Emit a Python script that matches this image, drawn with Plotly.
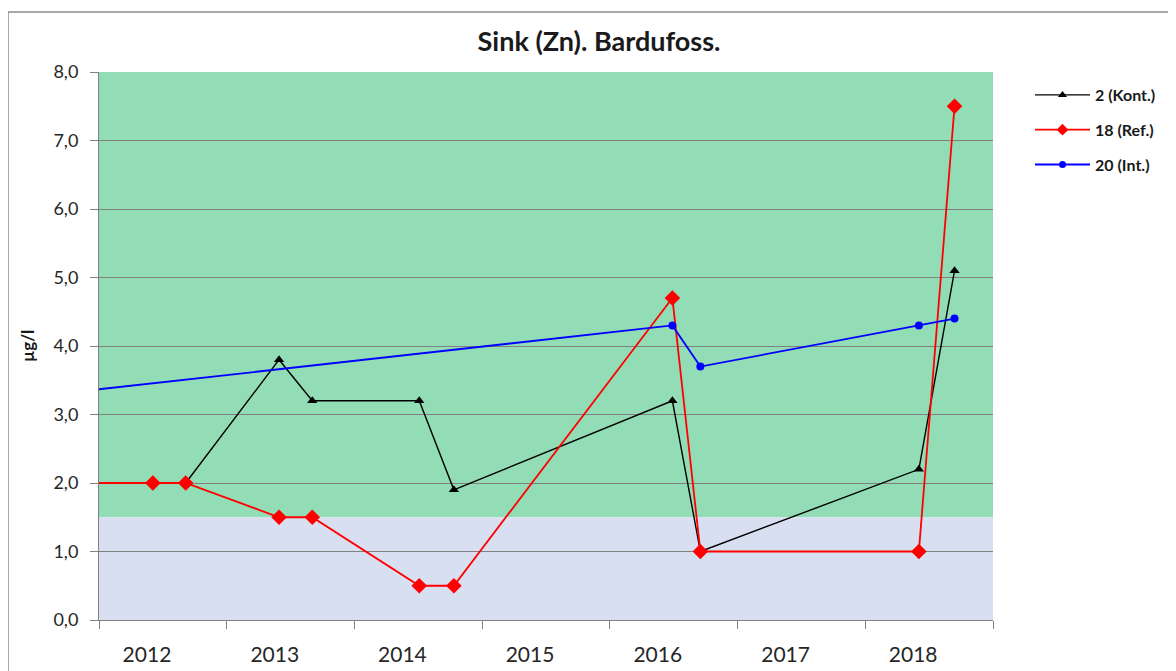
import plotly.graph_objects as go

# ---- data ----
kont_dates = ["2012-09-05", "2013-05-30", "2013-09-02", "2014-07-05", "2014-10-12",
              "2016-06-28", "2016-09-16", "2018-06-03", "2018-09-13"]
kont_vals = [2.0, 3.8, 3.2, 3.2, 1.9, 3.2, 1.0, 2.2, 5.1]

ref_dates = ["2011-09-15", "2012-06-03", "2012-09-05", "2013-05-30", "2013-09-02",
             "2014-07-05", "2014-10-12", "2016-06-28", "2016-09-16", "2018-06-03",
             "2018-09-13"]
ref_vals = [2.0, 2.0, 2.0, 1.5, 1.5, 0.5, 0.5, 4.7, 1.0, 1.0, 7.5]

int_dates = ["2010-09-15", "2016-06-28", "2016-09-16", "2018-06-03", "2018-09-13"]
int_vals = [3.1, 4.3, 3.7, 4.3, 4.4]

series_names = ["2 (Kont.)", "18 (Ref.)", "20 (Int.)"]
title_text = "Sink (Zn). Bardufoss."
y_title = "µg/l"
green_band = [1.5, 8.0]
blue_band = [0.0, 1.5]

FONT = "Lato"
GRID = "#808080"
TXT = "#262626"

# page is drawn with an 8px body margin
W, H = 1168, 663
OFF = 8
PL, PR, PT, PB = 99, 993, 72, 620  # plot area in page pixels

styles = [
    dict(color="black", width=1.4, symbol="triangle-up", size=9, lsize=8),
    dict(color="#ff0000", width=1.8, symbol="diamond", size=12, lsize=9),
    dict(color="#0000ff", width=1.8, symbol="circle", size=8, lsize=7),
]
series = [(kont_dates, kont_vals), (ref_dates, ref_vals), (int_dates, int_vals)]

fig = go.Figure()
for (xs, ys), name, st in zip(series, series_names, styles):
    fig.add_trace(go.Scatter(x=xs, y=ys, mode="lines+markers", name=name, showlegend=False,
                             line=dict(color=st["color"], width=st["width"]),
                             marker=dict(symbol=st["symbol"], size=st["size"], color=st["color"])))
for i, (name, st) in enumerate(zip(series_names, styles)):
    fig.add_trace(go.Scatter(x=[None], y=[None], mode="lines+markers", name=name,
                             legendgroup="g%d" % i, showlegend=True,
                             line=dict(color=st["color"], width=st["width"]),
                             marker=dict(symbol=st["symbol"], size=st["lsize"], color=st["color"])))

# background bands
fig.add_shape(type="rect", xref="paper", x0=0, x1=1, yref="y", y0=green_band[0], y1=green_band[1],
              fillcolor="#92dcb6", line=dict(width=0), layer="below")
fig.add_shape(type="rect", xref="paper", x0=0, x1=1, yref="y", y0=blue_band[0], y1=blue_band[1],
              fillcolor="#d8dff0", line=dict(width=0), layer="below")


def px(p):
    return (p - PL) / (PR - PL)


def py(p):
    return (PB - p) / (PB - PT)


# outer chart border
fig.add_shape(type="rect", xref="paper", yref="paper",
              x0=px(8.0), x1=px(1300), y0=py(800), y1=py(12),
              line=dict(color="#8c8c8c", width=1.5), fillcolor="rgba(0,0,0,0)", layer="below")

fig.update_layout(
    width=W, height=H,
    margin=dict(l=PL - OFF, r=W - (PR - OFF), t=PT - OFF, b=H - (PB - OFF), autoexpand=False),
    paper_bgcolor="white", plot_bgcolor="white",
    separators=",.",
    font=dict(family=FONT, color=TXT),
    title=dict(text="<b>" + title_text + "</b>", x=(599 - OFF) / W, xanchor="center",
               y=1 - (42 - OFF) / H, yanchor="middle",
               font=dict(size=27, family=FONT, color="#1a1a1a")),
    showlegend=True,
    legend=dict(x=px(1030), xanchor="left", y=py(78), yanchor="top",
                font=dict(size=16, family=FONT, color="#1a1a1a", weight="bold"),
                tracegroupgap=11, itemwidth=55, bgcolor="rgba(0,0,0,0)"),
    xaxis=dict(type="date", range=["2012-01-01", "2019-01-01"], dtick="M12", tick0="2012-01-01",
               tickformat="%Y", ticklabelmode="period", ticklabelshift=-16, ticklabelstandoff=8,
               showgrid=False, automargin=False,
               ticks="outside", ticklen=8, tickcolor=GRID, showline=True, linecolor=GRID, linewidth=1,
               tickfont=dict(size=21, family=FONT, color=TXT), zeroline=False),
    yaxis=dict(range=[0, 8], dtick=1, tickformat=".1f", showgrid=True, gridcolor=GRID, gridwidth=1,
               ticks="outside", ticklen=8, tickcolor=GRID, showline=True, linecolor=GRID, linewidth=1,
               ticklabelstandoff=8, automargin=False,
               tickfont=dict(size=18, family=FONT, color=TXT), zeroline=False),
)
fig.add_annotation(text="<b>" + y_title + "</b>", xref="paper", yref="paper",
                   x=px(27), y=py(346), xanchor="center", yanchor="middle",
                   textangle=-90, showarrow=False,
                   font=dict(size=17, family=FONT, color="#1a1a1a"))

fig.write_html("out.html")
